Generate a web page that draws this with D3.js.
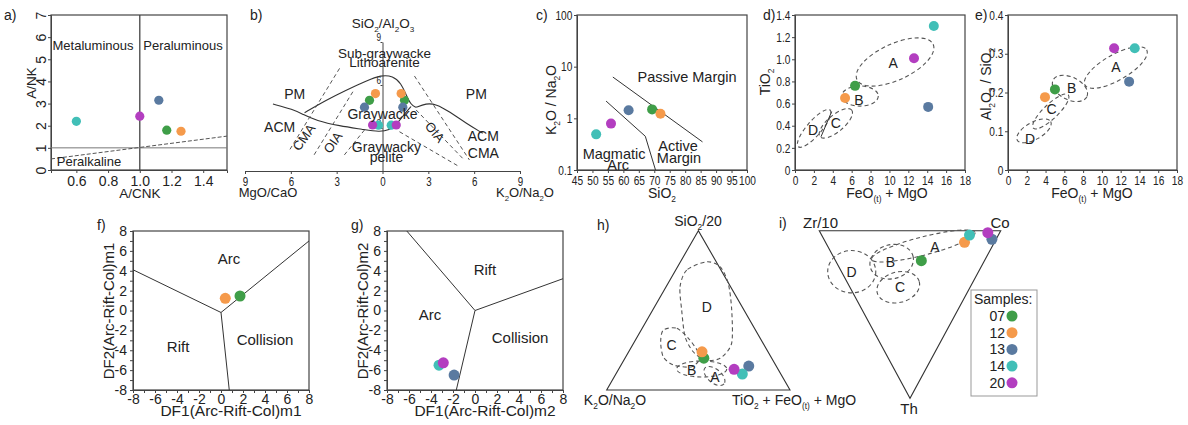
<!DOCTYPE html>
<html>
<head>
<meta charset="utf-8">
<script src="https://cdn.jsdelivr.net/npm/d3@7"></script>
<style>
  body { margin: 0; background: #fff; }
  svg { display: block; }
  text { font-family: "Liberation Sans", Arial, sans-serif; fill: #222; }
</style>
</head>
<body>
<svg id="fig" width="1188" height="425"></svg>
<script>
// ---- samples (order used by every array below) ----
var samples = ["07", "12", "13", "14", "20"];
var sampleColors = ["#3f9e48", "#f59a4b", "#5a7aa0", "#41bfb7", "#b33ec0"];

// a) A/CNK vs A/NK
var aCNK = [1.17, 1.26, 1.12, 0.60, 1.00];
var aNK = [1.80, 1.75, 3.15, 2.20, 2.43];
var aPeralkLine = [[0.44, 0.5], [1.55, 1.53]];

// b) SiO2/Al2O3 vs MgO/CaO (left) and K2O/Na2O (right)
var bSiAl = [4.93, 5.40, 4.45, 3.20, 3.21];
var bMgCa = [0.85, 0.46, 1.18, 0.26, 0.65];
var bKNa = [1.44, 1.22, 1.33, 0.57, 0.90];
var bTicks = [-9, -6, -3, 0, 3, 6, 9];
var bLower = [[-7.17, 4.67], [-5.86, 4.30], [-5.21, 3.95], [-4.34, 3.51], [-2.81, 3.14], [-1.29, 2.91], [-0.2, 2.72], [0.46, 2.86], [0.89, 3.21], [1.3, 3.8], [1.87, 4.5]];
var bUpper = [[-5.1, 4.07], [-3.68, 4.95], [-2.37, 5.65], [-1.07, 6.28], [-0.09, 6.70], [0.68, 6.63], [1.22, 6.12], [1.55, 5.30], [1.87, 4.60], [2.2, 4.44]];
var bRight = [[2.2, 4.44], [2.85, 4.72], [3.51, 4.67], [4.38, 4.14], [5.47, 3.33], [6.56, 2.63]];
var bDashed = [
  [[-2.81, 7.16], [-6.08, 1.47]],
  [[-1.94, 5.53], [-4.55, 1.0]],
  [[-1.18, 2.86], [-2.59, 1.0]],
  [[2.09, 6.63], [5.69, 0.77]],
  [[1.11, 2.74], [5.03, 0.3]],
  [[2.2, 4.26], [5.25, 0.88]]
];

// c) SiO2 vs K2O/Na2O
var cSiO2 = [69.3, 72.0, 61.7, 51.2, 56.0];
var cKNa = [1.49, 1.23, 1.43, 0.49, 0.79];
var cPassive = [[56.6, 6.3], [85.6, 0.35]];
var cArc = [[54.4, 2.16], [67.1, 0.45], [70.4, 0.1]];

// d) FeO(t)+MgO vs TiO2
var dFeMg = [6.36, 5.30, 14.1, 14.7, 12.6];
var dTiO2 = [0.76, 0.65, 0.57, 1.30, 1.01];
// fields: major-axis end points + minor/major ratio
var dFields = [
  { name: "A", p1: [6.56, 0.816], p2: [14.63, 1.135], w: 0.43, at: [10.4, 0.967] },
  { name: "B", p1: [4.95, 0.668], p2: [8.82, 0.668], w: 0.55, at: [6.78, 0.632] },
  { name: "C", p1: [2.65, 0.301], p2: [6.0, 0.542], w: 0.4, at: [4.31, 0.427] },
  { name: "D", p1: [0.35, 0.21], p2: [3.71, 0.542], w: 0.3, at: [1.9, 0.361] }
];
var dDivider = [[2.75, 0.30], [3.88, 0.527]];

// e) FeO(t)+MgO vs Al2O3/SiO2
var eFeMg = [5.0, 3.94, 12.9, 13.5, 11.3];
var eAlSi = [0.208, 0.188, 0.228, 0.314, 0.314];
var eFields = [
  { name: "A", p1: [8.2, 0.219], p2: [14.77, 0.31], w: 0.36, at: [11.5, 0.267] },
  { name: "B", p1: [4.8, 0.232], p2: [8.4, 0.189], w: 0.6, at: [6.78, 0.211] },
  { name: "C", p1: [2.7, 0.108], p2: [6.42, 0.194], w: 0.3, at: [4.65, 0.157] },
  { name: "D", p1: [0.99, 0.077], p2: [4.55, 0.125], w: 0.45, at: [2.34, 0.08] }
];

// f) DF1 vs DF2 (m1) ; g) DF1 vs DF2 (m2) -- only samples plotted
var fSamples = [0, 1];
var fDF1 = [1.73, 0.39];
var fDF2 = [1.46, 1.23];
var fLines = [[[-8, 4.1], [0, -0.2]], [[0, -0.2], [8, 7.0]], [[0, -0.2], [0.75, -8]]];
var gSamples = [2, 3, 4];
var gDF1 = [-1.9, -3.27, -2.88];
var gDF2 = [-6.5, -5.5, -5.26];
var gLines = [[[-6.2, 8], [0, 0]], [[0, 0], [8, 3.2]], [[0, 0], [-1.7, -8]]];

// h) ternary SiO2/20 - K2O/Na2O - TiO2+FeO(t)+MgO
var hSi = [0.20, 0.24, 0.15, 0.10, 0.13];
var hKNa = [0.37, 0.36, 0.15, 0.21, 0.24];
var hTi = [0.43, 0.40, 0.70, 0.69, 0.63];
// outlines as [Si, Ti] pairs
var hFieldD = [[0.805, 0.143], [0.753, 0.06], [0.648, 0.076], [0.502, 0.158], [0.335, 0.26], [0.24, 0.352], [0.188, 0.442], [0.199, 0.519], [0.293, 0.535], [0.502, 0.431], [0.67, 0.328], [0.774, 0.231]];
var hFieldC = [[0.377, 0.121], [0.387, 0.189], [0.314, 0.297], [0.209, 0.4045], [0.146, 0.391], [0.157, 0.285], [0.209, 0.204], [0.303, 0.143]];
var hEllipses = [
  { name: "B", p1: [0.132, 0.316], p2: [0.132, 0.589], w: 0.32, at: [0.1255, 0.401] },
  { name: "A", p1: [0.138, 0.467], p2: [0.038, 0.621], w: 0.55, at: [0.0835, 0.549] }
];
var hFieldLabels = [{ name: "D", at: [0.523, 0.284] }, { name: "C", at: [0.2825, 0.213] }];

// i) ternary Zr/10 - Co - Th
var iZr = [0.348, 0.165, 0.023, 0.159, 0.065];
var iCo = [0.473, 0.766, 0.926, 0.815, 0.923];
var iTh = [0.179, 0.069, 0.051, 0.026, 0.012];
// fields as [Th, Co] end points of major axis
var iFields = [
  { name: "A", p1: [0.171, 0.203], p2: [0.0113, 0.853], w: 0.17, at: [0.099, 0.588] },
  { name: "B", p1: [0.219, 0.172], p2: [0.151, 0.441], w: 0.77, at: [0.185, 0.30] },
  { name: "C", p1: [0.371, 0.134], p2: [0.304, 0.399], w: 0.7, at: [0.334, 0.278] },
  { name: "D", p1: [0.2446, -0.076], p2: [0.2446, 0.189], w: 0.88, at: [0.2446, 0.056] }
];

// ---------------------------------------------------
var svg = d3.select("#fig");
var ink = "#222", lineCol = "#444", dashCol = "#555";
var mainFont = '"Liberation Sans", Arial, sans-serif';

// text with {subscript} markup; narrow squeezes it horizontally
function label(g, x, y, str, size, opts) {
  opts = opts || {};
  var t = g.append("text").attr("x", x).attr("y", y).attr("font-size", size)
    .attr("text-anchor", opts.anchor || "middle");
  if (opts.rotate) t.attr("transform", "rotate(" + opts.rotate + "," + x + "," + y + ")");
  if (opts.narrow) t.attr("transform", "translate(" + x + "," + y + ") scale(0.8,1) translate(" + (-x) + "," + (-y) + ")");
  var sub = false;
  str.split(/(\{[^}]*\})/).forEach(function(p) {
    if (!p) return;
    if (p.charAt(0) == "{") {
      t.append("tspan").attr("dy", size * 0.3).attr("font-size", size * 0.6).text(p.slice(1, -1));
      sub = true;
    } else {
      t.append("tspan").attr("dy", sub ? -size * 0.3 : null).text(p);
      sub = false;
    }
  });
  return t;
}

function styleAxis(g, size, narrow) {
  g.attr("font-family", mainFont).attr("font-size", size);
  g.selectAll(".domain").attr("stroke", lineCol);
  g.selectAll(".tick line").attr("stroke", lineCol);
  g.selectAll(".tick text").attr("fill", ink);
  if (narrow) g.selectAll(".tick text").attr("transform", "scale(" + narrow + ",1)");
}

function frame(g, x, y) {
  g.append("rect")
    .attr("x", x.range()[0]).attr("y", y.range()[1])
    .attr("width", x.range()[1] - x.range()[0]).attr("height", y.range()[0] - y.range()[1])
    .attr("fill", "none").attr("stroke", lineCol).attr("stroke-width", 1.2);
}

function dots(g, xs, ys, idx, r) {
  g.selectAll("circle.pt").data(idx).join("circle").attr("class", "pt")
    .attr("cx", function(d, i) { return xs[i]; })
    .attr("cy", function(d, i) { return ys[i]; })
    .attr("r", r || 5)
    .attr("fill", function(d) { return sampleColors[d]; });
}

function ellipseField(g, s1, s2, w) {
  var cx = (s1[0] + s2[0]) / 2, cy = (s1[1] + s2[1]) / 2;
  var rx = Math.hypot(s2[0] - s1[0], s2[1] - s1[1]) / 2;
  var ang = Math.atan2(s2[1] - s1[1], s2[0] - s1[0]) * 180 / Math.PI;
  g.append("ellipse").attr("cx", cx).attr("cy", cy).attr("rx", rx).attr("ry", rx * w)
    .attr("transform", "rotate(" + ang + "," + cx + "," + cy + ")")
    .attr("fill", "none").attr("stroke", dashCol).attr("stroke-width", 1.1)
    .attr("stroke-dasharray", "4,3");
}

var idx = d3.range(samples.length);
var line = d3.line();

// ================= a) =================
(function() {
  var g = svg.append("g");
  var x = d3.scaleLinear().domain([0.44, 1.55]).range([51, 227]);
  var y = d3.scaleLinear().domain([0, 7]).range([170, 15]);
  var ax = g.append("g").attr("transform", "translate(0,170)")
    .call(d3.axisBottom(x).tickValues([0.6, 0.8, 1.0, 1.2, 1.4]).tickFormat(d3.format(".1f")).tickSize(3));
  styleAxis(ax, 14);
  var ay = g.append("g").attr("transform", "translate(51,0)")
    .call(d3.axisLeft(y).tickValues(d3.range(0, 8)).tickFormat(d3.format("d")).tickSize(3));
  styleAxis(ay, 14);
  ay.selectAll(".tick text").attr("x", 0).attr("dy", 0).attr("text-anchor", "middle")
    .attr("transform", "translate(-5,0) rotate(-90)");
  frame(g, x, y);
  g.append("path").attr("d", line([[x(1.0), y(0)], [x(1.0), y(7)]])).attr("stroke", lineCol).attr("stroke-width", 1.3);
  g.append("path").attr("d", line([[x(0.44), y(1)], [x(1.55), y(1)]])).attr("stroke", "#777").attr("stroke-width", 1);
  g.append("path").attr("d", line(aPeralkLine.map(function(p) { return [x(p[0]), y(p[1])]; })))
    .attr("stroke", dashCol).attr("stroke-dasharray", "4,2").attr("fill", "none");
  dots(g, aCNK.map(x), aNK.map(y), idx, 4.6);
  label(g, 93, 50, "Metaluminous", 13);
  label(g, 183, 50, "Peraluminous", 13);
  label(g, 89, 166, "Peralkaline", 13);
  label(g, 36, 83, "A/NK", 13.5, { rotate: -90 });
  label(g, 140, 198, "A/CNK", 13.5);
  label(g, 4, 20, "a)", 14, { anchor: "start" });
})();

// ================= b) =================
(function() {
  var g = svg.append("g");
  var x = d3.scaleLinear().domain([-9, 9]).range([245, 520]);
  var y = d3.scaleLinear().domain([0, 9]).range([171, 42]);
  var ax = g.append("g").attr("transform", "translate(0,171)")
    .call(d3.axisBottom(x).tickValues(bTicks).tickFormat(function(d) { return Math.abs(d); }).tickSize(3).tickSizeOuter(0));
  styleAxis(ax, 13, 0.75);
  var ay = g.append("g").attr("transform", "translate(" + x(0) + ",0)")
    .call(d3.axisLeft(y).tickValues([3, 6, 9]).tickSize(2).tickSizeOuter(0));
  styleAxis(ay, 11, 0.75);
  ay.selectAll(".tick text").attr("x", -2).attr("dy", "-0.15em");
  var pt = function(p) { return [x(p[0]), y(p[1])]; };
  var curve = d3.line().curve(d3.curveBasis);
  [bLower, bUpper, bRight].forEach(function(c) {
    g.append("path").attr("d", curve(c.map(pt))).attr("fill", "none").attr("stroke", "#333").attr("stroke-width", 1.1);
  });
  bDashed.forEach(function(s) {
    g.append("path").attr("d", line(s.map(pt))).attr("fill", "none").attr("stroke", dashCol)
      .attr("stroke-dasharray", "4,3");
  });
  dots(g, bMgCa.map(function(v) { return x(-v); }), bSiAl.map(y), idx, 4.6);
  var g2 = g.append("g");
  dots(g2, bKNa.map(x), bSiAl.map(y), idx, 4.6);
  label(g, x(0.13), y(7.9), "Sub-graywacke", 13.5);
  label(g, x(0.13), y(7.25), "Lithoarenite", 13.5);
  label(g, x(-5.75), y(5.0), "PM", 14);
  label(g, x(6.14), y(5.0), "PM", 14);
  label(g, x(0), y(3.6), "Graywacke", 14);
  label(g, x(-6.73), y(2.7), "ACM", 14);
  label(g, x(-4.9), y(2.16), "CMA", 13, { rotate: -55 });
  label(g, x(-3.0), y(1.81), "OIA", 13, { rotate: -55 });
  label(g, x(0.26), y(1.35), "Graywacky", 14);
  label(g, x(0.26), y(0.62), "pelite", 14);
  label(g, x(3.2), y(2.5), "OIA", 13, { rotate: 50 });
  label(g, x(6.6), y(2.1), "ACM", 14);
  label(g, x(6.6), y(0.92), "CMA", 14);
  label(g, 383, 28, "SiO{2}/Al{2}O{3}", 13.5);
  label(g, 268, 197, "MgO/CaO", 13);
  label(g, 525, 197, "K{2}O/Na{2}O", 13);
  label(g, 250, 20, "b)", 14, { anchor: "start" });
})();

// ================= c) =================
(function() {
  var g = svg.append("g");
  var x = d3.scaleLinear().domain([45, 100]).range([577, 747]);
  var y = d3.scaleLog().domain([0.1, 100]).range([170, 15]);
  var ax = g.append("g").attr("transform", "translate(0,170)")
    .call(d3.axisBottom(x).tickValues(d3.range(45, 101, 5)).tickSize(3));
  styleAxis(ax, 13, 0.78);
  var ay = g.append("g").attr("transform", "translate(577,0)")
    .call(d3.axisLeft(y).tickValues([0.1, 1, 10, 100]).tickFormat(function(d) { return String(d); }).tickSize(3));
  styleAxis(ay, 13, 0.78);
  frame(g, x, y);
  var pt = function(p) { return [x(p[0]), y(p[1])]; };
  g.append("path").attr("d", line(cPassive.map(pt))).attr("stroke", "#333").attr("fill", "none");
  g.append("path").attr("d", line(cArc.map(pt))).attr("stroke", "#333").attr("fill", "none");
  dots(g, cSiO2.map(x), cKNa.map(y), idx, 5);
  label(g, x(80.6), y(6.3) + 5, "Passive Margin", 14.5);
  label(g, x(57), y(0.2) + 5, "Magmatic", 14.5);
  label(g, x(58.3), y(0.125) + 5, "Arc", 14.5);
  label(g, x(77.7), y(0.29) + 5, "Active", 14.5);
  label(g, x(78), y(0.17) + 5, "Margin", 14.5);
  label(g, 556, 100, "K{2}O / Na{2}O", 14, { rotate: -90 });
  label(g, 662, 198, "SiO{2}", 14);
  label(g, 536, 20, "c)", 14, { anchor: "start" });
})();

// ================= d) & e) =================
function fieldPanel(opt) {
  var g = svg.append("g");
  var x = d3.scaleLinear().domain([0, 18]).range(opt.xr);
  var y = d3.scaleLinear().domain([0, opt.ymax]).range([170, 15]);
  var ax = g.append("g").attr("transform", "translate(0,170)")
    .call(d3.axisBottom(x).tickValues(d3.range(0, 19, 2)).tickSize(3));
  styleAxis(ax, 13, 0.78);
  var ay = g.append("g").attr("transform", "translate(" + opt.xr[0] + ",0)")
    .call(d3.axisLeft(y).tickValues(opt.yticks).tickFormat(function(d) { return d === 0 ? "0" : d3.format(".1f")(d); }).tickSize(3));
  styleAxis(ay, 13, 0.78);
  frame(g, x, y);
  var pt = function(p) { return [x(p[0]), y(p[1])]; };
  opt.fields.forEach(function(f) {
    ellipseField(g, pt(f.p1), pt(f.p2), f.w);
    label(g, x(f.at[0]), y(f.at[1]) + 5, f.name, 14);
  });
  if (opt.divider) g.append("path").attr("d", line(opt.divider.map(pt))).attr("stroke", "#333");
  dots(g, opt.xs.map(x), opt.ys.map(y), idx, 5);
  return g;
}
(function() {
  var g = fieldPanel({ xr: [795, 965], ymax: 1.4, yticks: d3.range(0, 1.41, 0.2), fields: dFields, divider: dDivider, xs: dFeMg, ys: dTiO2 });
  label(g, 770, 82, "TiO{2}", 14, { rotate: -90 });
  label(g, 887, 198, "FeO{(t)} + MgO", 14);
  label(g, 763, 20, "d)", 14, { anchor: "start" });
  var g2 = fieldPanel({ xr: [1008, 1177], ymax: 0.4, yticks: [0, 0.1, 0.2, 0.3, 0.4], fields: eFields, xs: eFeMg, ys: eAlSi });
  label(g2, 991, 84, "Al{2}O{3} / SiO{2}", 14, { rotate: -90 });
  label(g2, 1092, 198, "FeO{(t)} + MgO", 14);
  label(g2, 975, 20, "e)", 14, { anchor: "start" });
})();

// ================= f) & g) =================
function dfPanel(opt) {
  var g = svg.append("g");
  var x = d3.scaleLinear().domain([-8, 8]).range(opt.xr);
  var y = d3.scaleLinear().domain([-8, 8]).range([390, 231]);
  var ax = g.append("g").attr("transform", "translate(0,390)")
    .call(d3.axisBottom(x).ticks(16).tickFormat(function(d) { return d % 2 === 0 ? d : ""; }).tickSize(3));
  styleAxis(ax, 14);
  ax.selectAll(".tick text").attr("dy", "0.55em");
  var ay = g.append("g").attr("transform", "translate(" + opt.xr[0] + ",0)")
    .call(d3.axisLeft(y).ticks(16).tickFormat(function(d) { return d % 2 === 0 ? d : ""; }).tickSize(3));
  styleAxis(ay, 14);
  frame(g, x, y);
  var pt = function(p) { return [x(p[0]), y(p[1])]; };
  opt.lines.forEach(function(s) {
    g.append("path").attr("d", line(s.map(pt))).attr("stroke", "#333").attr("fill", "none");
  });
  dots(g, opt.xs.map(x), opt.ys.map(y), opt.idx, 5.5);
  opt.labels.forEach(function(l) { label(g, x(l[1]), y(l[2]) + 5, l[0], 15); });
  var mid = (opt.xr[0] + opt.xr[1]) / 2;
  label(g, mid + 10, 416, "DF1(Arc-Rift-Col)" + opt.m, 15.5);
  label(g, opt.xr[0] - 19, 311, "DF2(Arc-Rift-Col)" + opt.m, 15, { rotate: -90 });
  label(g, opt.xr[0] - 36, 230, opt.tag, 14, { anchor: "start" });
}
dfPanel({ xr: [133, 309], lines: fLines, xs: fDF1, ys: fDF2, idx: fSamples, m: "m1", tag: "f)",
  labels: [["Arc", 0.73, 5.2], ["Rift", -3.9, -3.7], ["Collision", 4.0, -3.0]] });
dfPanel({ xr: [387, 563], lines: gLines, xs: gDF1, ys: gDF2, idx: gSamples, m: "m2", tag: "g)",
  labels: [["Rift", 0.9, 4.05], ["Arc", -4.1, -0.5], ["Collision", 4.1, -2.8]] });

// ================= h) =================
(function() {
  var g = svg.append("g");
  var x = d3.scaleLinear().domain([0, 1]).range([606.7, 790]);
  var y = d3.scaleLinear().domain([0, 1]).range([390, 230.7]);
  // p = [Si, Ti]
  var pt = function(p) { return [x(p[1] + p[0] / 2), y(p[0])]; };
  g.append("path").attr("d", line([[1, 0], [0, 0], [0, 1]].map(pt)) + "Z")
    .attr("fill", "none").attr("stroke", "#333").attr("stroke-width", 1.1);
  var closed = d3.line().curve(d3.curveCardinalClosed.tension(0.2));
  [hFieldD, hFieldC].forEach(function(f) {
    g.append("path").attr("d", closed(f.map(pt))).attr("fill", "none").attr("stroke", dashCol)
      .attr("stroke-dasharray", "4,3").attr("stroke-width", 1.1);
  });
  hEllipses.forEach(function(f) {
    ellipseField(g, pt(f.p1), pt(f.p2), f.w);
    label(g, pt(f.at)[0], pt(f.at)[1] + 5, f.name, 14);
  });
  hFieldLabels.forEach(function(f) { label(g, pt(f.at)[0], pt(f.at)[1] + 5, f.name, 14); });
  dots(g, idx.map(function(i) { return pt([hSi[i], hTi[i]])[0]; }),
    idx.map(function(i) { return pt([hSi[i], hTi[i]])[1]; }), idx, 5.5);
  label(g, 698, 226, "SiO{2}/20", 14);
  label(g, 615, 405, "K{2}O/Na{2}O", 14);
  label(g, 732, 405, "TiO{2} + FeO{(t)} + MgO", 14, { anchor: "start" });
  label(g, 597, 230, "h)", 14, { anchor: "start" });
})();

// ================= i) =================
(function() {
  var g = svg.append("g");
  var x = d3.scaleLinear().domain([0, 1]).range([819.3, 1000.7]);
  var y = d3.scaleLinear().domain([0, 1]).range([230.7, 398.3]);
  // p = [Th, Co]
  var pt = function(p) { return [x(p[1] + p[0] / 2), y(p[0])]; };
  g.append("path").attr("d", line([[0, 0], [0, 1], [1, 0]].map(pt)) + "Z")
    .attr("fill", "none").attr("stroke", "#333").attr("stroke-width", 1.1);
  iFields.forEach(function(f) {
    ellipseField(g, pt(f.p1), pt(f.p2), f.w);
    label(g, pt(f.at)[0], pt(f.at)[1] + 5, f.name, 14);
  });
  dots(g, idx.map(function(i) { return pt([iTh[i], iCo[i]])[0]; }),
    idx.map(function(i) { return pt([iTh[i], iCo[i]])[1]; }), idx, 5.5);
  label(g, 803, 228, "Zr/10", 15, { anchor: "start" });
  label(g, 1000, 228, "Co", 15);
  label(g, 909, 414, "Th", 15);
  label(g, 779, 228, "i)", 14, { anchor: "start" });

  // legend
  var lg = g.append("g");
  lg.append("rect").attr("x", 971).attr("y", 290).attr("width", 66).attr("height", 106)
    .attr("fill", "#fff").attr("stroke", "#999");
  label(lg, 974, 304, "Samples:", 14, { anchor: "start" });
  var rows = lg.selectAll("g.row").data(samples).join("g").attr("class", "row")
    .attr("transform", function(d, i) { return "translate(0," + (316 + i * 16.7) + ")"; });
  rows.append("text").attr("x", 1005).attr("y", 5).attr("text-anchor", "end").attr("font-size", 14)
    .text(function(d) { return d; });
  rows.append("circle").attr("cx", 1012).attr("cy", 0).attr("r", 5.5)
    .attr("fill", function(d, i) { return sampleColors[i]; });
})();
</script>
</body>
</html>
